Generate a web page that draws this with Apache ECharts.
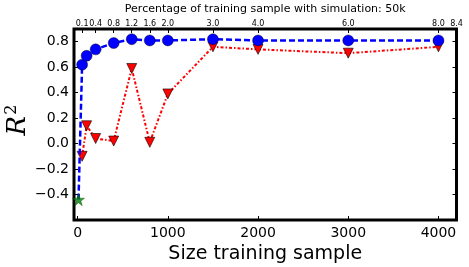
<!DOCTYPE html>
<html>
<head>
<meta charset="utf-8">
<script src="https://cdn.jsdelivr.net/npm/echarts@6/dist/echarts.min.js"></script>
<style>html,body{margin:0;padding:0;background:#fff;}#c{width:469px;height:267px;}</style>
</head>
<body>
<div id="c"></div>
<script>
// ---- data ----
const sizes = [50, 100, 200, 400, 600, 800, 1000, 1500, 2000, 3000, 4000];
const blueR2 = [0.62, 0.69, 0.74, 0.79, 0.82, 0.81, 0.81, 0.82, 0.81, 0.81, 0.81];
const redR2 = [-0.10, 0.14, 0.04, 0.02, 0.59, 0.01, 0.39, 0.76, 0.74, 0.71, 0.76];
const baselineX = 10;
const baselineR2 = -0.44;
const bottomTicks = [0, 1000, 2000, 3000, 4000];
const topTickPercent = [0.1, 0.4, 0.8, 1.2, 1.6, 2.0, 3.0, 4.0, 6.0, 8.0, 8.4];
const simulationSize = 50000;
const topTitle = 'Percentage of training sample with simulation: 50k';
const xTitle = 'Size training sample';

const topTicks = topTickPercent.map(p => p / 100 * simulationSize);
const FONT = 'DejaVu Sans';
const starPath = 'path://M50,0 L61.8,35.5 L99,35.5 L69,57.5 L80.4,93 L50,71 L19.6,93 L31,57.5 L1,35.5 L38.2,35.5 Z';
const minus = s => s.replace('-', '\u2212');

const chart = echarts.init(document.getElementById('c'), null, {renderer: 'canvas'});
const blueData = [{value: [baselineX, baselineR2], symbol: 'none'}].concat(sizes.map((s, i) => [s, blueR2[i]]));
const redData = sizes.map((s, i) => [s, redR2[i]]);

chart.setOption({
  animation: false,
  backgroundColor: '#fff',
  textStyle: {fontFamily: FONT},
  grid: {left: 74, right: 12.5, top: 29, bottom: 47, show: true, borderColor: '#000', borderWidth: 3,
    backgroundColor: '#fff', containLabel: false, outerBoundsMode: 'none'},
  graphic: [{
    type: 'text', x: 18, y: 120, rotation: Math.PI / 2,
    style: {
      text: '{r|R}{s|2}', align: 'center', verticalAlign: 'middle',
      rich: {
        r: {fontFamily: 'DejaVu Serif', fontStyle: 'italic', fontSize: 26, fill: '#000'},
        s: {fontFamily: 'DejaVu Serif', fontSize: 16, fill: '#000', padding: [0, 0, 12, 1]}
      }
    }
  }],
  xAxis: [{
    type: 'value', position: 'bottom', min: -40, max: 4200,
    axisLine: {show: false, onZero: false},
    splitLine: {show: false},
    axisTick: {inside: true, length: 4, lineStyle: {color: '#000', width: 1}, customValues: bottomTicks},
    axisLabel: {customValues: bottomTicks, fontSize: 14, color: '#000', margin: 6, fontFamily: FONT,
      formatter: v => String(Math.round(v))},
    name: xTitle, nameLocation: 'middle', nameGap: 21,
    nameTextStyle: {fontSize: 19, color: '#000', fontFamily: FONT}
  }, {
    type: 'value', position: 'top', min: -40, max: 4200,
    axisLine: {show: false, onZero: false},
    splitLine: {show: false},
    axisTick: {inside: true, length: 4, lineStyle: {color: '#000', width: 1}, customValues: topTicks},
    axisLabel: {customValues: topTicks, fontSize: 8, color: '#000', margin: 1, fontFamily: FONT,
      formatter: v => (v / simulationSize * 100).toFixed(1)},
    name: topTitle, nameLocation: 'middle', nameGap: 10,
    nameTextStyle: {fontSize: 11, color: '#000', fontFamily: FONT}
  }],
  yAxis: [{
    type: 'value', position: 'left', min: -0.6, max: 0.9, interval: 0.2,
    axisLine: {show: false, onZero: false},
    splitLine: {show: false},
    axisTick: {inside: true, length: 4, lineStyle: {color: '#000', width: 1}},
    axisLabel: {fontSize: 14, color: '#000', margin: 5, fontFamily: FONT,
      formatter: v => (v < -0.55 || v > 0.85) ? '' : minus(v.toFixed(1))}
  }, {
    type: 'value', position: 'right', min: -0.6, max: 0.9, interval: 0.2,
    axisLine: {show: false, onZero: false},
    splitLine: {show: false},
    axisTick: {inside: true, length: 4, lineStyle: {color: '#000', width: 1}},
    axisLabel: {show: false}
  }],
  series: [{
    type: 'line', xAxisIndex: 0, yAxisIndex: 0, data: redData,
    symbol: 'triangle', symbolRotate: 180, symbolSize: [10, 10],
    itemStyle: {color: '#ff0000', borderColor: '#000', borderWidth: 0.6},
    lineStyle: {color: '#ff0000', width: 2, type: [3, 2, 1.5, 2]},
    z: 3
  }, {
    type: 'line', xAxisIndex: 0, yAxisIndex: 0, data: blueData,
    symbol: 'circle', symbolSize: 11,
    itemStyle: {color: '#0000ff', borderColor: '#000', borderWidth: 0.4},
    lineStyle: {color: '#0000ff', width: 2.5, type: [6, 3]},
    z: 4
  }, {
    type: 'scatter', xAxisIndex: 0, yAxisIndex: 0, data: [[baselineX, baselineR2]],
    symbol: starPath, symbolSize: 12,
    itemStyle: {color: '#008000', borderColor: '#004000', borderWidth: 0.5},
    z: 5
  }]
});
</script>
</body>
</html>
